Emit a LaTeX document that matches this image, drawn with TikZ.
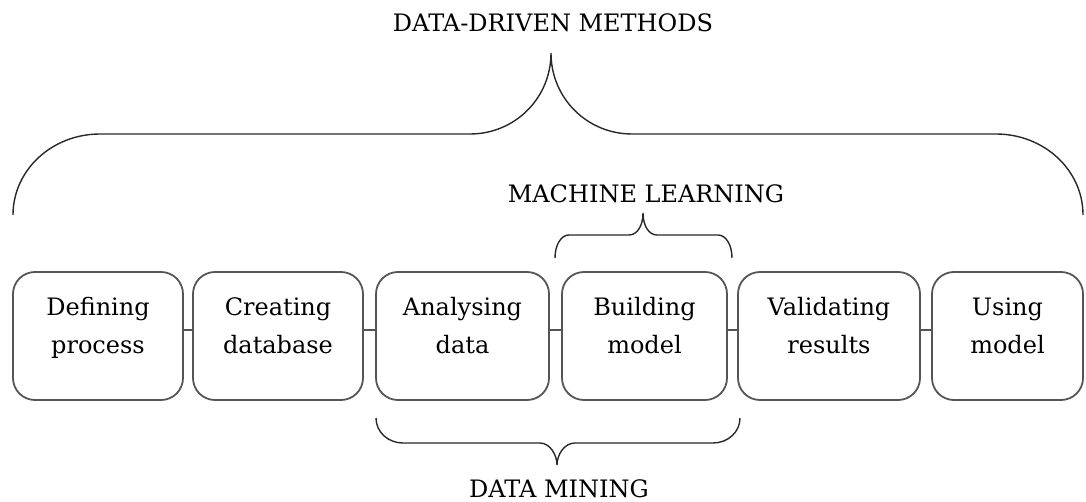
\documentclass[tikz,border=0pt]{standalone}
\usepackage{fontspec}
\setmainfont{DejaVu Serif}
\definecolor{boxline}{RGB}{85,85,85}
\definecolor{braceline}{RGB}{40,40,40}
\begin{document}
\begin{tikzpicture}[x=1pt,y=-1pt,
  box/.style={draw=boxline,line width=1.8pt,rounded corners=22pt,minimum height=128pt,inner sep=0pt},
  lbl/.style={font=\fontsize{24}{38}\selectfont,align=center,anchor=base,text=black,inner sep=0pt},
  captxt/.style={font=\fontsize{24}{30}\selectfont,anchor=base,text=black,inner sep=0pt},
  conn/.style={draw=boxline,line width=1.8pt},
  bracepath/.style={draw=braceline,line width=1.4pt}]
\useasboundingbox (0,0) rectangle (1086,502);
% boxes
\node[box,minimum width=170pt] (b1) at (98,336) {};
\node[box,minimum width=170pt] (b2) at (278,336) {};
\node[box,minimum width=173pt] (b3) at (462.5,336) {};
\node[box,minimum width=165pt] (b4) at (644.5,336) {};
\node[box,minimum width=182pt] (b5) at (829,336) {};
\node[box,minimum width=151pt] (b6) at (1007.5,336) {};
% texts (base anchor = baseline of last line)
\node[lbl] (t1) at (98,353) {Defining\\process};
\node[lbl] (t2) at (278,353) {Creating\\database};
\node[lbl] (t3) at (462.5,353) {Analysing\\data};
\node[lbl] (t4) at (644.5,353) {Building\\model};
\node[lbl] (t5) at (829,353) {Validating\\results};
\node[lbl] (t6) at (1007.5,353) {Using\\model};
% connectors
\draw[conn] ([yshift=6pt]b1.east) -- ([yshift=6pt]b2.west);
\draw[conn] ([yshift=6pt]b2.east) -- ([yshift=6pt]b3.west);
\draw[conn] ([yshift=6pt]b3.east) -- ([yshift=6pt]b4.west);
\draw[conn] ([yshift=6pt]b4.east) -- ([yshift=6pt]b5.west);
\draw[conn] ([yshift=6pt]b5.east) -- ([yshift=6pt]b6.west);
% braces
\draw[bracepath] (13,215) .. controls (13,170) and (52,134) .. (100,134) -- (470,134)
  .. controls (515,134) and (551,98) .. (551,53)
  .. controls (551,98) and (587,134) .. (632,134) -- (996,134)
  .. controls (1044,134) and (1083,170) .. (1083,215);
\draw[bracepath] (555,258) .. controls (555,245) and (561,235) .. (569,235) -- (629,235)
  .. controls (637,235) and (643,226) .. (643,213)
  .. controls (643,226) and (649,235) .. (657,235) -- (718,235)
  .. controls (726,235) and (732,245) .. (732,258);
\draw[bracepath] (376,418) .. controls (376,432) and (388,443) .. (403,443) -- (540,443)
  .. controls (550,443) and (557,455) .. (557,465)
  .. controls (557,455) and (564,443) .. (575,443) -- (713,443)
  .. controls (728,443) and (740,432) .. (740,418);
% captions
\node[captxt] (ddm) at (553,32) {DATA-DRIVEN METHODS};
\node[captxt] (ml) at (646,203) {MACHINE LEARNING};
\node[captxt] (dm) at (559,497) {DATA MINING};
\end{tikzpicture}
\end{document}
